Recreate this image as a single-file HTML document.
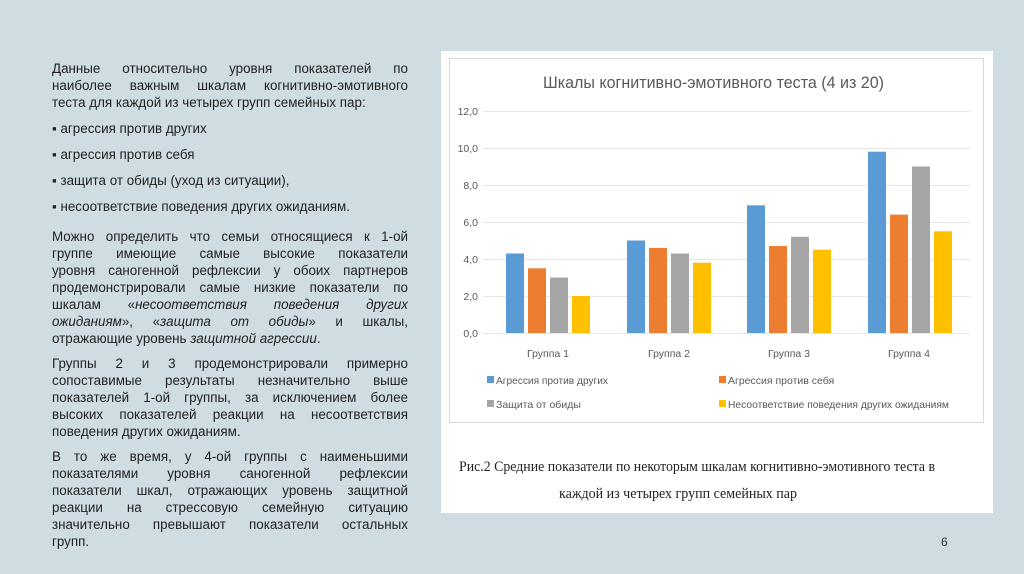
<!DOCTYPE html>
<html><head><meta charset="utf-8"><style>
body{margin:0;width:1024px;height:574px;background:#cfdde2;position:relative;overflow:hidden;font-family:"Liberation Sans","DejaVu Sans",sans-serif;}
.t{position:absolute;left:52px;width:356px;font-size:13.4px;line-height:17px;color:#222;text-align:justify;}
.t p{margin:0;}
.l{text-align:justify;text-align-last:justify;}
</style></head><body>
<div class="t" style="top:60px">
<p class="l">Данные относительно уровня показателей по</p>
<p class="l">наиболее важным шкалам когнитивно-эмотивного</p>
<p>теста для каждой из четырех групп семейных пар:</p>
<p style="margin-top:9px">▪ агрессия против других</p>
<p style="margin-top:9px">▪ агрессия против себя</p>
<p style="margin-top:9px">▪ защита от обиды (уход из ситуации),</p>
<p style="margin-top:9px">▪ несоответствие поведения других ожиданиям.</p>
<p class="l" style="margin-top:13px">Можно определить что семьи относящиеся к 1-ой</p>
<p class="l">группе имеющие самые высокие показатели</p>
<p class="l">уровня саногенной рефлексии у обоих партнеров</p>
<p class="l">продемонстрировали самые низкие показатели по</p>
<p class="l">шкалам «<i>несоответствия поведения других</i></p>
<p class="l"><i>ожиданиям</i>», «<i>защита от обиды</i>» и шкалы,</p>
<p>отражающие уровень <i>защитной агрессии</i>.</p>
<p class="l" style="margin-top:8px">Группы 2 и 3 продемонстрировали примерно</p>
<p class="l">сопоставимые результаты незначительно выше</p>
<p class="l">показателей 1-ой группы, за исключением более</p>
<p class="l">высоких показателей реакции на несоответствия</p>
<p>поведения других ожиданиям.</p>
<p class="l" style="margin-top:8px">В то же время, у 4-ой группы с наименьшими</p>
<p class="l">показателями уровня саногенной рефлексии</p>
<p class="l">показатели шкал, отражающих уровень защитной</p>
<p class="l">реакции на стрессовую семейную ситуацию</p>
<p class="l">значительно превышают показатели остальных</p>
<p>групп.</p>
</div>
<div style="position:absolute;left:441px;top:51px;width:552px;height:462px;background:#fff"></div>
<svg style="position:absolute;left:0;top:0" width="1024" height="574" font-family="Liberation Sans, DejaVu Sans, sans-serif">
<rect x="449.5" y="58.5" width="534" height="364" fill="none" stroke="#d9d9d9"/>
<text x="543" y="88" font-size="17" fill="#595959" textLength="341" lengthAdjust="spacingAndGlyphs">Шкалы когнитивно-эмотивного теста (4 из 20)</text>
<g stroke="#e6e6e6" stroke-width="1">
<line x1="483" x2="970" y1="111.5" y2="111.5"/><line x1="483" x2="970" y1="148.5" y2="148.5"/><line x1="483" x2="970" y1="185.5" y2="185.5"/><line x1="483" x2="970" y1="222.5" y2="222.5"/><line x1="483" x2="970" y1="259.5" y2="259.5"/><line x1="483" x2="970" y1="296.5" y2="296.5"/><line x1="483" x2="970" y1="333.5" y2="333.5"/>
</g>
<g font-size="10.5" fill="#595959" text-anchor="end">
<text x="478" y="115">12,0</text><text x="478" y="152">10,0</text><text x="478" y="189">8,0</text><text x="478" y="226">6,0</text><text x="478" y="263">4,0</text><text x="478" y="300">2,0</text><text x="478" y="337">0,0</text>
</g>
<g>
<rect x="506" y="253.5" width="18" height="79.5" fill="#5b9bd5"/><rect x="528" y="268.3" width="18" height="64.7" fill="#ed7d31"/><rect x="550" y="277.5" width="18" height="55.5" fill="#a5a5a5"/><rect x="572" y="296" width="18" height="37" fill="#ffc000"/>
<rect x="627" y="240.5" width="18" height="92.5" fill="#5b9bd5"/><rect x="649" y="247.9" width="18" height="85.1" fill="#ed7d31"/><rect x="671" y="253.5" width="18" height="79.5" fill="#a5a5a5"/><rect x="693" y="262.7" width="18" height="70.3" fill="#ffc000"/>
<rect x="747" y="205.3" width="18" height="127.7" fill="#5b9bd5"/><rect x="769" y="246" width="18" height="87" fill="#ed7d31"/><rect x="791" y="236.8" width="18" height="96.2" fill="#a5a5a5"/><rect x="813" y="249.7" width="18" height="83.3" fill="#ffc000"/>
<rect x="868" y="151.7" width="18" height="181.3" fill="#5b9bd5"/><rect x="890" y="214.6" width="18" height="118.4" fill="#ed7d31"/><rect x="912" y="166.5" width="18" height="166.5" fill="#a5a5a5"/><rect x="934" y="231.3" width="18" height="101.7" fill="#ffc000"/>
</g>
<g font-size="10.5" fill="#595959" text-anchor="middle">
<text x="548" y="357">Группа 1</text><text x="669" y="357">Группа 2</text><text x="789" y="357">Группа 3</text><text x="909" y="357">Группа 4</text>
</g>
<g font-size="10.5" fill="#595959">
<rect x="487" y="376" width="7" height="7" fill="#5b9bd5"/><text x="496" y="384" textLength="112" lengthAdjust="spacingAndGlyphs">Агрессия против других</text>
<rect x="719" y="376" width="7" height="7" fill="#ed7d31"/><text x="728" y="384">Агрессия против себя</text>
<rect x="487" y="400" width="7" height="7" fill="#a5a5a5"/><text x="496" y="408">Защита от обиды</text>
<rect x="719" y="400" width="7" height="7" fill="#ffc000"/><text x="728" y="408" textLength="221" lengthAdjust="spacingAndGlyphs">Несоответствие поведения других ожиданиям</text>
</g>
<g font-family="Liberation Serif, DejaVu Serif, serif" font-size="15" fill="#222">
<text x="459" y="471" textLength="476" lengthAdjust="spacingAndGlyphs">Рис.2 Средние показатели по некоторым шкалам когнитивно-эмотивного теста в</text>
<text x="559" y="498" textLength="238" lengthAdjust="spacingAndGlyphs">каждой из четырех групп семейных пар</text>
</g>
<text x="941" y="546" font-size="12" fill="#333">6</text>
</svg>
</body></html>
